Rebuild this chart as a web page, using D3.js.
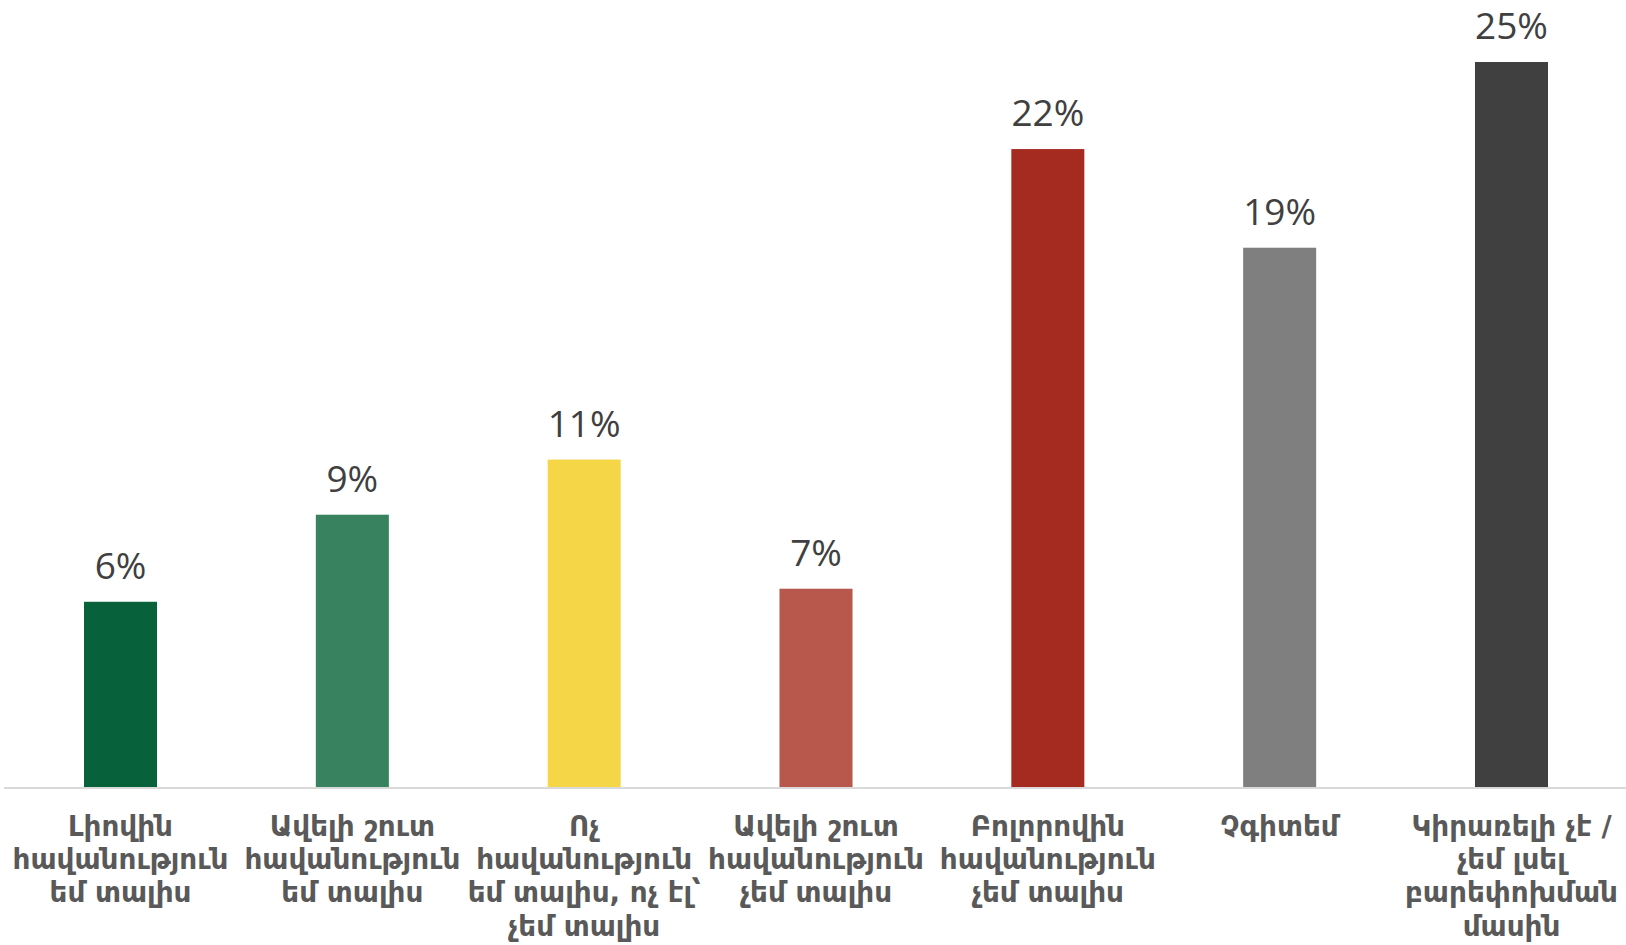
<!DOCTYPE html>
<html>
<head>
<meta charset="utf-8">
<script src="https://cdn.jsdelivr.net/npm/d3@7"></script>
<style>
  html, body { margin: 0; padding: 0; background: #ffffff; }
  svg { display: block; }
</style>
</head>
<body>
<svg id="chart" width="1626" height="945"></svg>
<script>
// ---- data ----
const categories = [
  "Լիովին\nհավանություն\nեմ տալիս",
  "Ավելի շուտ\nհավանություն\nեմ տալիս",
  "Ոչ\nհավանություն\nեմ տալիս, ոչ էլ՝\nչեմ տալիս",
  "Ավելի շուտ\nհավանություն\nչեմ տալիս",
  "Բոլորովին\nհավանություն\nչեմ տալիս",
  "Չգիտեմ",
  "Կիրառելի չէ /\nչեմ լսել\nբարեփոխման\nմասին"
];
const values = [6.4, 9.4, 11.3, 6.85, 22.0, 18.6, 25.0];
const valueLabels = ["6%", "9%", "11%", "7%", "22%", "19%", "25%"];
const colors = ["#07613B", "#38825F", "#F5D646", "#B8574C", "#A52B21", "#7F7F7F", "#404040"];

// ---- layout ----
const W = 1626, H = 945;
const baseY = 787.5, topY = 62;
const svg = d3.select("#chart");

const x = d3.scaleBand().domain(categories).range([4.6, 1627.4]).padding(0);
const barW = x.bandwidth() * 0.315;
const y = d3.scaleLinear().domain([0, 25]).range([baseY, topY]);

// bars
svg.append("g").selectAll("rect")
  .data(categories)
  .join("rect")
  .attr("x", (d) => x(d) + x.bandwidth() / 2 - barW / 2)
  .attr("y", (d, i) => y(values[i]))
  .attr("width", barW)
  .attr("height", (d, i) => baseY - y(values[i]))
  .attr("fill", (d, i) => colors[i]);

// axis line
svg.append("line")
  .attr("x1", 4).attr("x2", W)
  .attr("y1", baseY + 0.5).attr("y2", baseY + 0.5)
  .attr("stroke", "#d9d9d9").attr("stroke-width", 2);

// value labels
svg.append("g").selectAll("text")
  .data(categories)
  .join("text")
  .attr("x", (d) => x(d) + x.bandwidth() / 2)
  .attr("y", (d, i) => y(values[i]) - 23)
  .attr("text-anchor", "middle")
  .attr("font-family", "'Open Sans', 'Liberation Sans', sans-serif")
  .attr("font-size", 37)
  .attr("fill", "#404040")
  .text((d, i) => valueLabels[i]);

// category labels
const catG = svg.append("g");
const labelFont = 29;
const fam = "'DejaVu Sans Condensed', 'DejaVu Sans', sans-serif";
const texts = catG.selectAll("text")
  .data(categories)
  .join("text")
  .attr("text-anchor", "middle")
  .attr("font-family", fam)
  .attr("font-stretch", "condensed")
  .attr("font-weight", "bold")
  .attr("font-size", labelFont)
  .attr("fill", "#595959");
texts.each(function(d) {
  const t = d3.select(this);
  d.split("\n").forEach((line, j) => {
    t.append("tspan").attr("x", 0).attr("y", j * 33.2).text(line);
  });
});
// horizontal fit to the reference typeface width
const probe = catG.append("text")
  .attr("font-family", fam)
  .attr("font-stretch", "condensed")
  .attr("font-weight", "bold")
  .attr("font-size", labelFont)
  .text("հավանություն");
const pw = probe.node().getComputedTextLength();
probe.remove();
const sx = pw > 0 ? 216 / pw : 1;
texts.attr("transform", (d) => `translate(${x(d) + x.bandwidth() / 2},836) scale(${sx},1)`);
</script>
</body>
</html>
